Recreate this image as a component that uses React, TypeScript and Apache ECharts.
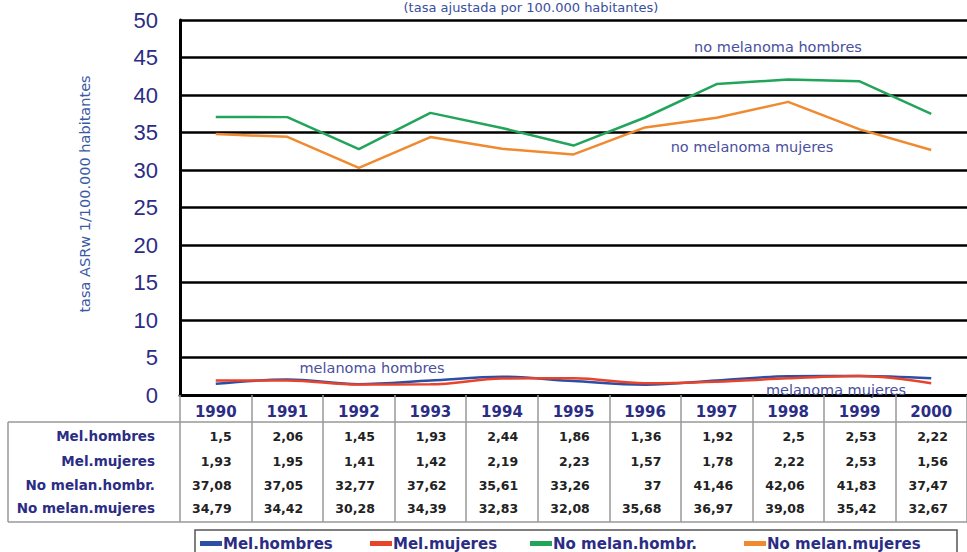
import React, { useEffect, useRef } from "react";
import * as echarts from "echarts";

const years = ["1990", "1991", "1992", "1993", "1994", "1995", "1996", "1997", "1998", "1999", "2000"];
const melHombres = [1.5, 2.06, 1.45, 1.93, 2.44, 1.86, 1.36, 1.92, 2.5, 2.53, 2.22];
const melMujeres = [1.93, 1.95, 1.41, 1.42, 2.19, 2.23, 1.57, 1.78, 2.22, 2.53, 1.56];
const noMelHombres = [37.08, 37.05, 32.77, 37.62, 35.61, 33.26, 37, 41.46, 42.06, 41.83, 37.47];
const noMelMujeres = [34.79, 34.42, 30.28, 34.39, 32.83, 32.08, 35.68, 36.97, 39.08, 35.42, 32.67];
const seriesNames = ["Mel.hombres", "Mel.mujeres", "No melan.hombr.", "No melan.mujeres"];
const seriesColors = ["#2c4ea6", "#e8432b", "#22a45a", "#ef8a30"];
const tableRows = [melHombres, melMujeres, noMelHombres, noMelMujeres];
const title = "(tasa ajustada por 100.000 habitantes)";
const yTitle = "tasa ASRw 1/100.000 habitantes";
const annotations = [
  { text: "no melanoma hombres", x: 778, y: 47 },
  { text: "no melanoma mujeres", x: 752, y: 147 },
  { text: "melanoma hombres", x: 372, y: 368 },
  { text: "melanoma mujeres", x: 836, y: 390 },
];

const NAVY = "#2b2d85";
const FONT = "DejaVu Sans";

const fmt = (v: number) => String(v).replace(".", ",");

export default function App() {
  const ref = useRef<HTMLDivElement>(null);
  useEffect(() => {
    if (!ref.current) return;
    const chart = echarts.init(ref.current, null, { renderer: "svg" });
    const gridLeft = 180;
    const gridTop = 20;
    const gridWidth = 788;
    const gridHeight = 375;
    const colW = gridWidth / years.length;
    const rowY = [436, 461, 485, 508];
    const legendX = [200, 370, 530, 744];

    const graphics: any[] = [];
    graphics.push({ type: "line", shape: { x1: 8, y1: 422, x2: 967, y2: 422 }, style: { stroke: "#999", lineWidth: 1.5 } });
    graphics.push({ type: "line", shape: { x1: 8, y1: 522, x2: 967, y2: 522 }, style: { stroke: "#999", lineWidth: 1.5 } });
    graphics.push({ type: "line", shape: { x1: 8, y1: 422, x2: 8, y2: 522 }, style: { stroke: "#999", lineWidth: 1.5 } });
    seriesNames.forEach((name, r) => {
      graphics.push({
        type: "text", x: 155, y: rowY[r],
        style: { text: name, align: "right", verticalAlign: "middle", font: `bold 13.5px '${FONT}'`, fill: NAVY },
      });
      tableRows[r].forEach((v, c) => {
        graphics.push({
          type: "text", x: gridLeft + (c + 1) * colW - 20, y: rowY[r],
          style: { text: fmt(v), align: "right", verticalAlign: "middle", font: `bold 12.5px '${FONT}'`, fill: "#222" },
        });
      });
    });
    graphics.push({
      type: "text", x: 531, y: 7,
      style: { text: title, align: "center", verticalAlign: "middle", font: `13px '${FONT}'`, fill: "#3a4ea0" },
    });
    graphics.push({
      type: "text", x: 85, y: 194, rotation: Math.PI / 2,
      style: { text: yTitle, align: "center", verticalAlign: "middle", font: `14.5px '${FONT}'`, fill: "#3b5aa6" },
    });
    annotations.forEach((a) => {
      graphics.push({
        type: "text", x: a.x, y: a.y, z: 1,
        style: { text: a.text, align: "center", verticalAlign: "middle", font: `14.5px '${FONT}'`, fill: "#4a4f9e" },
      });
    });
    graphics.push({
      type: "rect", shape: { x: 195, y: 530, width: 762, height: 40 },
      style: { fill: "none", stroke: "#555", lineWidth: 1.5 },
    });

    const seriesData = [melHombres, melMujeres, noMelHombres, noMelMujeres];

    chart.setOption({
      animation: false,
      backgroundColor: "#fff",
      grid: { left: gridLeft, top: gridTop, width: gridWidth, height: gridHeight, containLabel: false },
      legend: seriesNames.map((n, i) => ({
        data: [n],
        left: legendX[i],
        top: 536,
        icon: "rect",
        itemWidth: 22,
        itemHeight: 5,
        padding: 0,
        selectedMode: false,
        textStyle: { fontFamily: FONT, fontWeight: "bold", fontSize: 15, color: NAVY, padding: [0, 0, 0, -4] },
      })),
      xAxis: {
        type: "category",
        data: years,
        boundaryGap: true,
        axisLine: { show: true, lineStyle: { color: "#000", width: 3 } },
        axisTick: { show: true, interval: 0, length: 127, lineStyle: { color: "#999", width: 1.5 } },
        axisLabel: { interval: 0, margin: 9, fontFamily: FONT, fontWeight: "bold", fontSize: 15, color: NAVY },
        splitLine: { show: false },
      },
      yAxis: {
        type: "value",
        min: 0,
        max: 50,
        interval: 5,
        axisLine: { show: true, lineStyle: { color: "#000", width: 3 } },
        axisTick: { show: false },
        axisLabel: { margin: 22, fontFamily: "Liberation Sans", fontSize: 22, color: NAVY },
        splitLine: { show: true, lineStyle: { color: "#000", width: 2.5 } },
      },
      series: seriesNames.map((n, i) => ({
        name: n,
        type: "line",
        data: seriesData[i],
        smooth: i < 2 ? 0.35 : false,
        symbol: "none",
        z: 3,
        lineStyle: { color: seriesColors[i], width: 2.5 },
        itemStyle: { color: seriesColors[i] },
      })),
      graphic: graphics,
    });
    return () => chart.dispose();
  }, []);
  return <div ref={ref} style={{ position: "fixed", left: 0, top: 0, width: 967, height: 552 }} />;
}
